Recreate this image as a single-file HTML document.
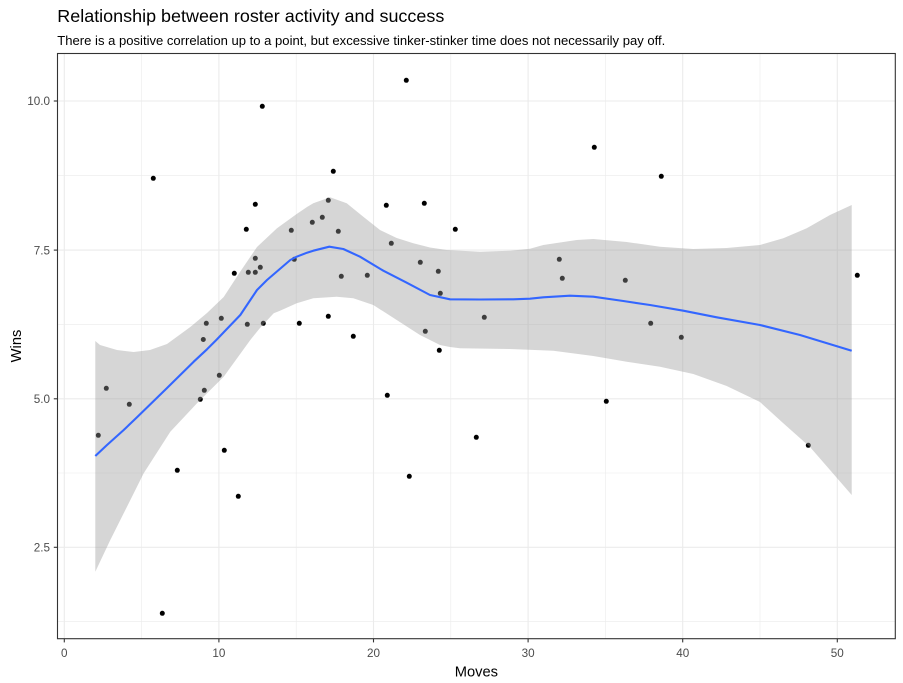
<!DOCTYPE html>
<html><head><meta charset="utf-8"><style>
html,body{margin:0;padding:0;background:#fff;}
svg{display:block;font-family:"Liberation Sans",Arial,sans-serif;}
</style></head><body>
<svg width="903" height="683" viewBox="0 0 903 683" xmlns="http://www.w3.org/2000/svg">
<rect width="903" height="683" fill="#fff"/>
<text x="57.3" y="22" font-size="17.4" fill="#000" textLength="387" lengthAdjust="spacingAndGlyphs">Relationship between roster activity and success</text>
<text x="57.3" y="45" font-size="13" fill="#000" textLength="608" lengthAdjust="spacingAndGlyphs">There is a positive correlation up to a point, but excessive tinker-stinker time does not necessarily pay off.</text>
<!-- grid minor -->
<g stroke="#EBEBEB" stroke-width="0.6" fill="none">
<line x1="57.5" x2="895.3" y1="621.6" y2="621.6"/>
<line x1="57.5" x2="895.3" y1="473" y2="473"/>
<line x1="57.5" x2="895.3" y1="324.3" y2="324.3"/>
<line x1="57.5" x2="895.3" y1="175.7" y2="175.7"/>
<line y1="53.5" y2="638.7" x1="141.6" x2="141.6"/>
<line y1="53.5" y2="638.7" x1="296.2" x2="296.2"/>
<line y1="53.5" y2="638.7" x1="450.8" x2="450.8"/>
<line y1="53.5" y2="638.7" x1="605.4" x2="605.4"/>
<line y1="53.5" y2="638.7" x1="760" x2="760"/>
</g>
<g stroke="#EBEBEB" stroke-width="1.1" fill="none">
<line x1="57.5" x2="895.3" y1="547.3" y2="547.3"/>
<line x1="57.5" x2="895.3" y1="398.8" y2="398.8"/>
<line x1="57.5" x2="895.3" y1="250.1" y2="250.1"/>
<line x1="57.5" x2="895.3" y1="101" y2="101"/>
<line y1="53.5" y2="638.7" x1="64.3" x2="64.3"/>
<line y1="53.5" y2="638.7" x1="218.9" x2="218.9"/>
<line y1="53.5" y2="638.7" x1="373.5" x2="373.5"/>
<line y1="53.5" y2="638.7" x1="528.1" x2="528.1"/>
<line y1="53.5" y2="638.7" x1="682.7" x2="682.7"/>
<line y1="53.5" y2="638.7" x1="837.3" x2="837.3"/>
</g>
<!-- points -->
<g fill="#000">
<circle cx="98.3" cy="435.3" r="2.5"/><circle cx="106.3" cy="388.3" r="2.5"/><circle cx="129.3" cy="404.3" r="2.5"/>
<circle cx="153.3" cy="178.3" r="2.5"/><circle cx="162.3" cy="613.3" r="2.5"/><circle cx="177.3" cy="470.3" r="2.5"/>
<circle cx="200.3" cy="399.3" r="2.5"/><circle cx="204.3" cy="390.3" r="2.5"/><circle cx="206.3" cy="323.3" r="2.5"/>
<circle cx="203.3" cy="339.5" r="2.5"/><circle cx="219.3" cy="375.3" r="2.5"/><circle cx="221.3" cy="318.3" r="2.5"/>
<circle cx="224.3" cy="450.3" r="2.5"/><circle cx="234.3" cy="273.3" r="2.5"/><circle cx="238.3" cy="496.3" r="2.5"/>
<circle cx="247.3" cy="324.3" r="2.5"/><circle cx="246.3" cy="229.3" r="2.5"/><circle cx="248.3" cy="272.3" r="2.5"/>
<circle cx="255.3" cy="204.3" r="2.5"/><circle cx="255.3" cy="258.3" r="2.5"/><circle cx="255.3" cy="272.3" r="2.5"/>
<circle cx="260.3" cy="267.3" r="2.5"/><circle cx="262.3" cy="106.3" r="2.5"/><circle cx="263.3" cy="323.3" r="2.5"/>
<circle cx="291.3" cy="230.3" r="2.5"/><circle cx="294.3" cy="259.3" r="2.5"/><circle cx="299.3" cy="323.3" r="2.5"/>
<circle cx="312.3" cy="222.3" r="2.5"/><circle cx="322.3" cy="217.3" r="2.5"/><circle cx="328.3" cy="200.3" r="2.5"/>
<circle cx="328.3" cy="316.3" r="2.5"/><circle cx="333.3" cy="171.3" r="2.5"/><circle cx="338.3" cy="231.3" r="2.5"/>
<circle cx="341.3" cy="276.3" r="2.5"/><circle cx="353.3" cy="336.3" r="2.5"/><circle cx="367.3" cy="275.3" r="2.5"/>
<circle cx="386.3" cy="205.3" r="2.5"/><circle cx="387.3" cy="395.3" r="2.5"/><circle cx="391.3" cy="243.3" r="2.5"/>
<circle cx="406.3" cy="80.3" r="2.5"/><circle cx="409.3" cy="476.3" r="2.5"/><circle cx="420.3" cy="262.3" r="2.5"/>
<circle cx="424.3" cy="203.3" r="2.5"/><circle cx="425.3" cy="331.3" r="2.5"/><circle cx="438.3" cy="271.3" r="2.5"/>
<circle cx="439.3" cy="350.3" r="2.5"/><circle cx="440.3" cy="293.3" r="2.5"/><circle cx="455.3" cy="229.3" r="2.5"/>
<circle cx="476.3" cy="437.3" r="2.5"/><circle cx="484.3" cy="317.3" r="2.5"/><circle cx="559.3" cy="259.3" r="2.5"/>
<circle cx="562.3" cy="278.3" r="2.5"/><circle cx="594.3" cy="147.3" r="2.5"/><circle cx="606.3" cy="401.3" r="2.5"/>
<circle cx="625.3" cy="280.3" r="2.5"/><circle cx="650.7" cy="323.3" r="2.5"/><circle cx="661.3" cy="176.3" r="2.5"/>
<circle cx="681.3" cy="337.3" r="2.5"/><circle cx="808.3" cy="445.3" r="2.5"/><circle cx="857.3" cy="275.3" r="2.5"/>
</g>
<!-- ribbon -->
<path fill="#999999" fill-opacity="0.4" stroke="none" d="M95.3,341 L100,345 L117,350 L133.7,352 L150,350 L167,344 L190.3,327 L207,313 L223.7,297 L240,272 L257,247 L277,228.3 L296.7,214 L307,207 L313.3,203.3 L330,197.3 L346.7,203.3 L363.3,216.7 L380,230 L396.7,238 L413.3,243.3 L430,247.5 L446.7,250 L480,251.7 L510,250.7 L530,248.8 L543.3,245 L576.7,240 L593.3,239 L626.7,242 L660,246.7 L693.3,249 L726.7,248 L760,245 L783.3,238.3 L806.7,228.3 L830,215 L851.7,205 L851.7,495 L830,470 L810,447 L783.3,423.3 L760,402 L726.7,386 L693.3,374 L660,366.7 L626.7,361.7 L593.3,356 L553.3,350.7 L510,349 L460,348.3 L450,347 L440,345 L420,335 L396.7,320 L373.3,305 L353.3,298.3 L336.7,296.7 L313.3,298.3 L296.7,303.3 L280,310.7 L273.7,313.3 L260,328 L250.3,340 L223.7,376.7 L197,403.3 L170.3,431.7 L143.7,473.3 L123.7,513.3 L110.3,540 L95.3,571.7 Z"/>
<!-- smooth line -->
<polyline fill="none" stroke="#3366FF" stroke-width="2.1" stroke-linejoin="round" points="95.3,456 107,445 123.7,430 137,417.3 165,390 193.7,361.7 207,349.3 216.3,340 240.3,315 257,290 267,280 290.3,260 296.7,256.7 307,252.7 313.3,250.7 329.3,246.7 343.3,249 360,256.7 383.3,270.7 406.7,282.7 430,295 450,299.3 480,299.5 513.3,299.3 530,298.7 543.3,297.3 570,295.7 593.3,296.7 623.3,301 650,305 683.3,310.7 716.7,317.3 760,325 800,335 851.7,350.7"/>
<!-- panel border -->
<rect x="57.5" y="53.5" width="837.8" height="585.2" fill="none" stroke="#333333" stroke-width="1.1"/>
<!-- ticks -->
<g stroke="#333333" stroke-width="1.1">
<line x1="53.8" x2="57.5" y1="547.3" y2="547.3"/>
<line x1="53.8" x2="57.5" y1="398.8" y2="398.8"/>
<line x1="53.8" x2="57.5" y1="250.1" y2="250.1"/>
<line x1="53.8" x2="57.5" y1="101" y2="101"/>
<line y1="638.7" y2="642.4" x1="64.3" x2="64.3"/>
<line y1="638.7" y2="642.4" x1="218.9" x2="218.9"/>
<line y1="638.7" y2="642.4" x1="373.5" x2="373.5"/>
<line y1="638.7" y2="642.4" x1="528.1" x2="528.1"/>
<line y1="638.7" y2="642.4" x1="682.7" x2="682.7"/>
<line y1="638.7" y2="642.4" x1="837.3" x2="837.3"/>
</g>
<g fill="#4D4D4D" font-size="11.7" text-anchor="end">
<text x="50" y="551.5">2.5</text>
<text x="50" y="403">5.0</text>
<text x="50" y="254.3">7.5</text>
<text x="50" y="105.2">10.0</text>
</g>
<g fill="#4D4D4D" font-size="11.7" text-anchor="middle">
<text x="64.3" y="657">0</text>
<text x="218.9" y="657">10</text>
<text x="373.5" y="657">20</text>
<text x="528.1" y="657">30</text>
<text x="682.7" y="657">40</text>
<text x="837.3" y="657">50</text>
</g>
<text x="476.4" y="676.5" font-size="14.7" text-anchor="middle" fill="#000">Moves</text>
<text transform="translate(21,346) rotate(-90)" font-size="14.7" text-anchor="middle" fill="#000">Wins</text>
</svg>
</body></html>
